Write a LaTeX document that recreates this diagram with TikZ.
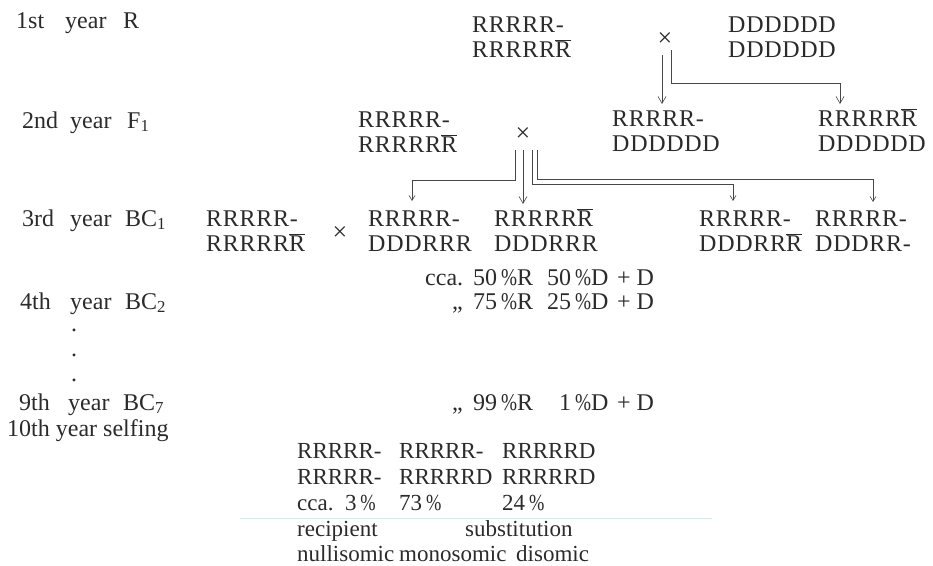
\documentclass[tikz,border=0pt]{standalone}
\usepackage{fontspec}
\usepackage{graphicx}
\setmainfont{Liberation Serif}
\newfontfamily\genofont[LetterSpace=3]{Liberation Serif}
\usetikzlibrary{arrows.meta}
\definecolor{ink}{HTML}{2B2B2B}
\definecolor{wire}{HTML}{474747}
\definecolor{scanline}{HTML}{CDEEF1}
% chromosome with a missing arm: R with a bar over it
\newcommand\barR{\smash{\ensuremath{\overline{\mbox{R}}}}}
% two-line chromosome set, baseline on the first line
\newcommand\pair[2]{\begin{tabular}[t]{@{}l@{}}#1\\#2\end{tabular}}
% narrow per-cent sign
\newcommand\pc{\,\scalebox{0.8}[1]{\%}}
\begin{document}
\begin{tikzpicture}[x=1pt,y=-1pt,
  txt/.style={font=\fontsize{24}{25}\selectfont, text=ink, anchor=base west, inner sep=0pt},
  small txt/.style={txt, font=\fontsize{23}{25}\selectfont},
  geno/.style={txt, font=\genofont\fontsize{24}{25}\selectfont},
  cross/.style={font=\fontsize{26}{26}\selectfont, text=ink, inner sep=0pt},
  wire/.style={draw=wire, line width=0.6pt},
  big/.style={wire, -{Straight Barb[length=7pt,width=8pt]}},
  small/.style={wire, -{Straight Barb[length=5pt,width=6pt]}}]
\useasboundingbox (0,0) rectangle (933,565);
\fill[white] (0,0) rectangle (933,565);

% year labels
\node[txt] (y1) at (16,28) {1st};   \node[txt] (y1w) at (65,28) {year};  \node[txt] (y1g) at (123,28) {R};
\node[txt] (y2) at (22,128) {2nd};  \node[txt] (y2w) at (70,128) {year}; \node[txt] (y2g) at (127,128) {F\textsubscript{1}};
\node[txt] (y3) at (22,226) {3rd};  \node[txt] (y3w) at (70,226) {year}; \node[txt] (y3g) at (125,226) {BC\textsubscript{1}};
\node[txt] (y4) at (20,309) {4th};  \node[txt] (y4w) at (70,309) {year}; \node[txt] (y4g) at (125,309) {BC\textsubscript{2}};
\node[txt] (d1) at (71,331) {.};
\node[txt] (d2) at (71,356) {.};
\node[txt] (d3) at (71,381) {.};
\node[txt] (y9) at (19,410) {9th};  \node[txt] (y9w) at (68,410) {year}; \node[txt] (y9g) at (123,410) {BC\textsubscript{7}};
\node[txt] (y10) at (7,436) {10th year selfing};

% 1st year: the cross
\node[geno] (p1) at (472,32) {\pair{RRRRR-}{RRRRR\barR}};
\node[geno] (p2) at (728,32) {\pair{DDDDDD}{DDDDDD}};
\node[cross] (x1) at (665,40) {×};

% 2nd year: F1 backcrossed to the recipient
\node[geno] (p3) at (358,127) {\pair{RRRRR-}{RRRRR\barR}};
\node[geno] (f1a) at (612,126) {\pair{RRRRR-}{DDDDDD}};
\node[geno] (f1b) at (818,126) {\pair{RRRRR\barR}{DDDDDD}};
\node[cross] (x2) at (523,135) {×};

% 3rd year: BC1 progeny
\node[geno] (b0) at (206,226) {\pair{RRRRR-}{RRRRR\barR}};
\node[cross] (x3) at (340,234) {×};
\node[geno] (b1) at (368,226) {\pair{RRRRR-}{DDDRRR}};
\node[geno] (b2) at (494,226) {\pair{RRRRR\barR}{DDDRRR}};
\node[geno] (b3) at (699,226) {\pair{RRRRR-}{DDDRR\barR}};
\node[geno] (b4) at (815,226) {\pair{RRRRR-}{DDDRR-}};

% proportions of recipient and donor chromatin
\node[txt] (c0) at (425,285) {cca.};
\node[txt] (c1) at (473,285) {50\pc R};
\node[txt] (c2) at (547,285) {50\pc D};
\node[txt] (c3) at (617,285) {+\ D};
\node[txt] (q4) at (452,309) {„};
\node[txt] (c4) at (473,309) {75\pc R};
\node[txt] (c5) at (547,309) {25\pc D};
\node[txt] (c6) at (617,309) {+\ D};
\node[txt] (q9) at (452,410) {„};
\node[txt] (c7) at (473,410) {99\pc R};
\node[txt] (c8) at (559,410) {1\pc D};
\node[txt] (c9) at (617,410) {+\ D};

% selfed progeny
\node[small txt] (s1a) at (297,458) {RRRRR-};
\node[small txt] (s1b) at (297,484) {RRRRR-};
\node[small txt] (s1c) at (297,510) {cca.\ \ 3\pc};
\node[small txt] (s1d) at (297,536) {recipient};
\node[small txt] (s1e) at (297,561) {nullisomic};
\node[small txt] (s2a) at (399,458) {RRRRR-};
\node[small txt] (s2b) at (399,484) {RRRRRD};
\node[small txt] (s2c) at (399,510) {73\pc};
\node[small txt] (s2d) at (465,536) {substitution};
\node[small txt] (s2e) at (399,561) {monosomic};
\node[small txt] (s3a) at (502,458) {RRRRRD};
\node[small txt] (s3b) at (502,484) {RRRRRD};
\node[small txt] (s3c) at (502,510) {24\pc};
\node[small txt] (s3e) at (516,561) {disomic};
\draw[scanline, line width=0.6pt] (240,518) -- (712,518);

% branches of the first cross
\coordinate (a1) at (662,55);
\coordinate (a1e) at (662,104);
\coordinate (a2) at (671,50);
\coordinate (a2k) at (671,83);
\coordinate (a2j) at (840,83);
\coordinate (a2e) at (840,104);
\draw[big] (a1) -- (a1e);
\draw[wire] (a2) -- (a2k) -- (a2j);
\draw[big] (a2j) -- (a2e);

% branches of the backcross
\coordinate (k1) at (515,150); \coordinate (k1j) at (515,180); \coordinate (k1t) at (412,180); \coordinate (k1e) at (412,201);
\coordinate (k2) at (523,150); \coordinate (k2e) at (523,204);
\coordinate (k3) at (532,150); \coordinate (k3j) at (532,184); \coordinate (k3t) at (733,184); \coordinate (k3e) at (733,201);
\coordinate (k4) at (537,150); \coordinate (k4j) at (537,179); \coordinate (k4t) at (873,179); \coordinate (k4e) at (873,202);
\draw[wire] (k1) -- (k1j) -- (k1t);
\draw[small] (k1t) -- (k1e);
\draw[big] (k2) -- (k2e);
\draw[wire] (k3) -- (k3j) -- (k3t);
\draw[small] (k3t) -- (k3e);
\draw[wire] (k4) -- (k4j) -- (k4t);
\draw[small] (k4t) -- (k4e);
\end{tikzpicture}
\end{document}
